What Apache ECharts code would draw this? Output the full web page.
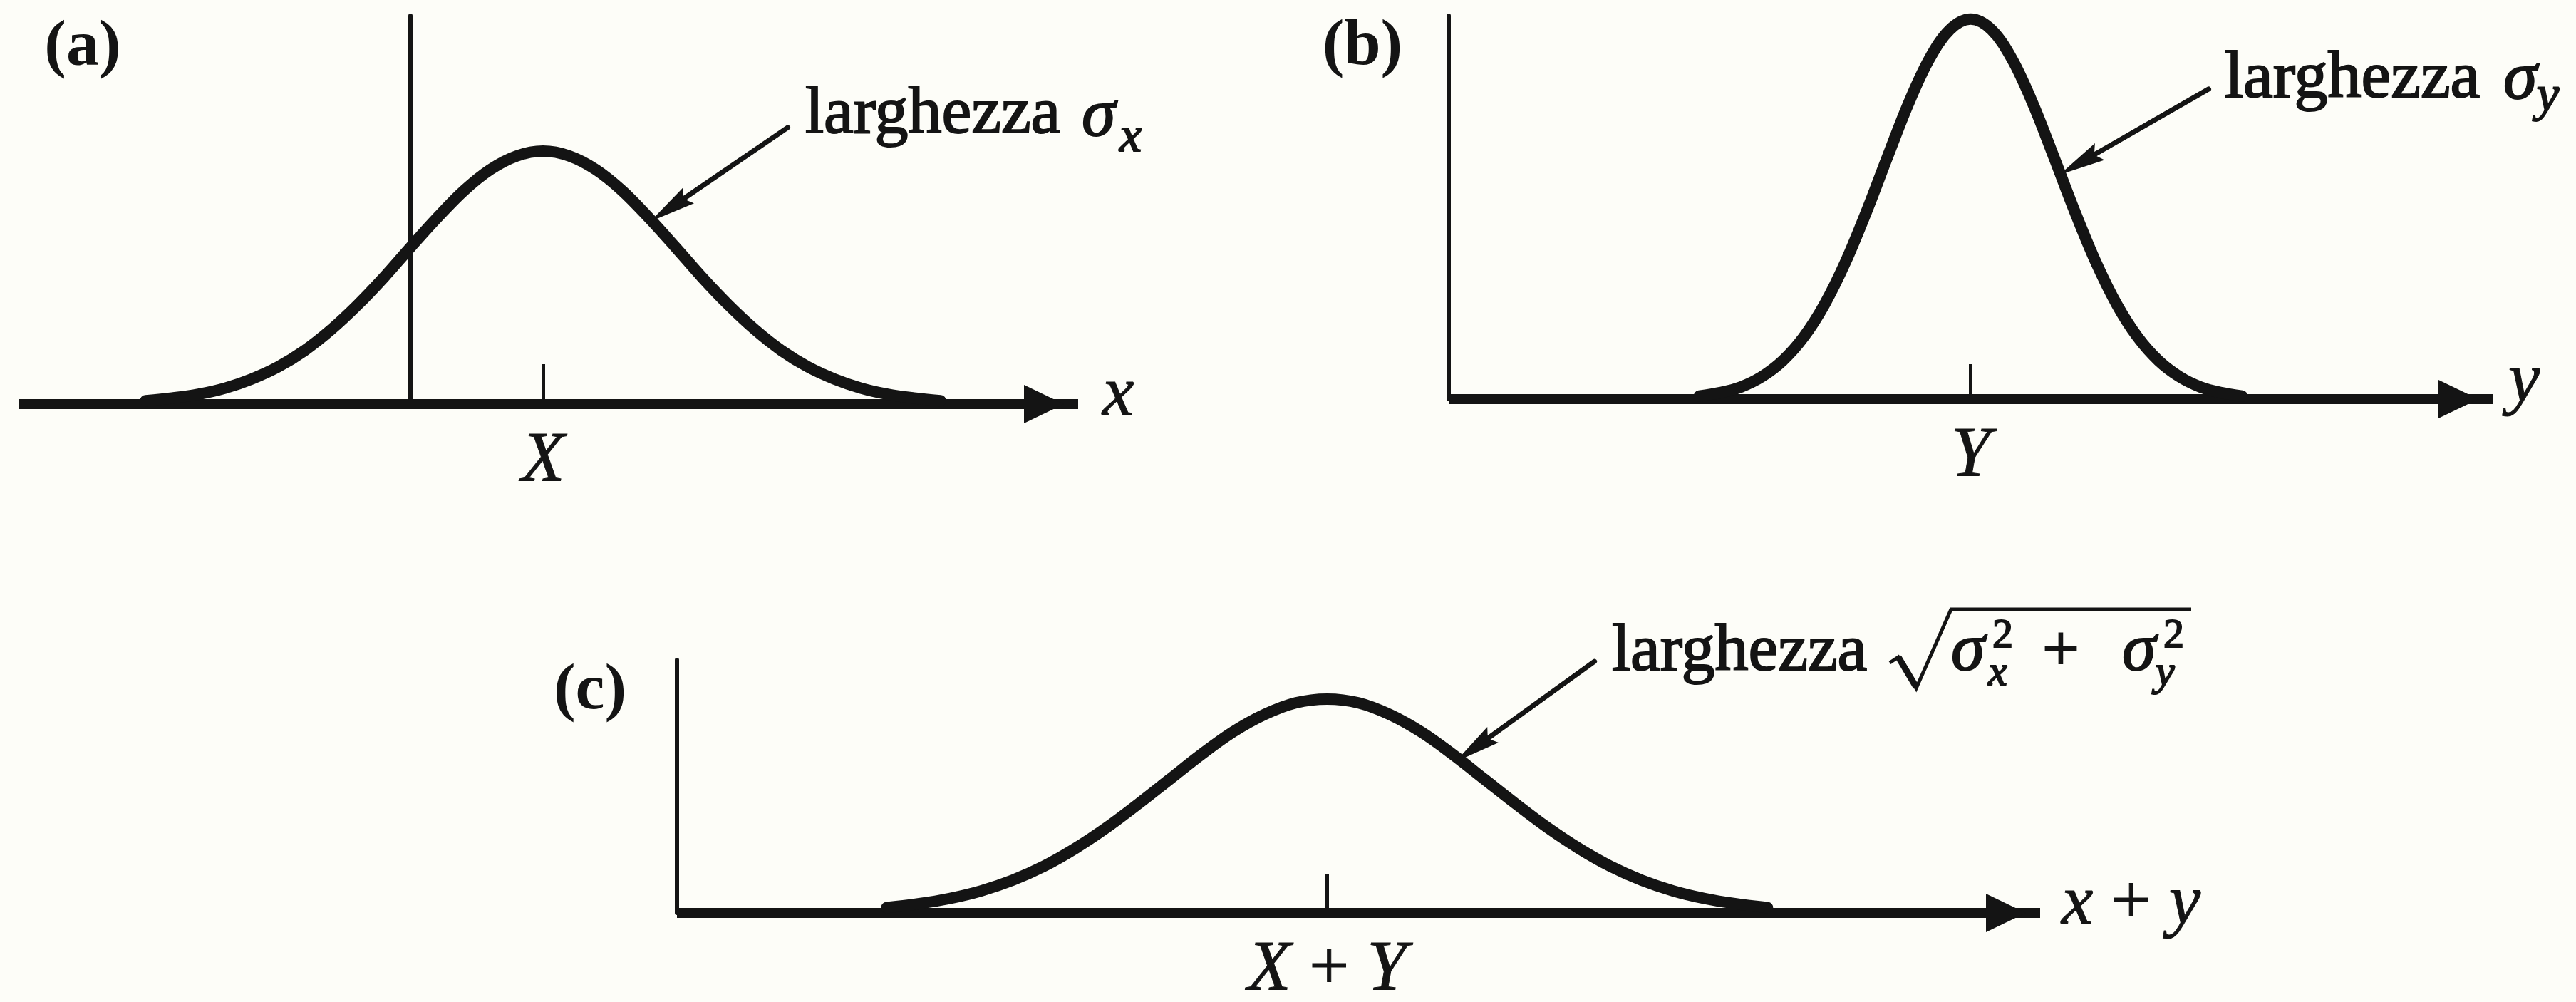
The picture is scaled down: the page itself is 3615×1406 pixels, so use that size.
<!DOCTYPE html>
<html>
<head>
<meta charset="utf-8">
<script src="https://cdn.jsdelivr.net/npm/echarts@6/dist/echarts.min.js"></script>
<style>
  html, body { margin: 0; padding: 0; background: #fdfdf8; }
  #chart { width: 3615px; height: 1406px; }
</style>
</head>
<body>
<div id="chart"></div>
<script>
// ---- (a) distribution of x ----
const xA = [-2.5, -2.25, -2.0, -1.75, -1.5, -1.25, -1.0, -0.75, -0.5, -0.25, 0, 0.25, 0.5, 0.75, 1.0, 1.25,
            1.5, 1.75, 2.0, 2.25, 2.5, 2.75, 3.0, 3.25, 3.5, 3.75, 4.0, 4.25, 4.5, 4.75, 5.0];
const yA = [0.009, 0.016, 0.026, 0.042, 0.066, 0.098, 0.141, 0.196, 0.261, 0.334, 0.413, 0.490, 0.561, 0.617, 0.653, 0.666,
            0.653, 0.617, 0.561, 0.490, 0.413, 0.334, 0.261, 0.196, 0.141, 0.098, 0.066, 0.042, 0.026, 0.016, 0.009];
const rangeA = [-3.7, 6.3];
const topA = 1.0225;
const tickA = [1.25];
const tickLabelA = ['X'];
const pointerA = [[3.56, 0.728], [2.29, 0.486]];

// ---- (b) distribution of y ----
const xB = [2.4, 2.6, 2.8, 3.0, 3.2, 3.4, 3.6, 3.8, 4.0, 4.2, 4.4, 4.6, 4.8, 5.0,
            5.2, 5.4, 5.6, 5.8, 6.0, 6.2, 6.4, 6.6, 6.8, 7.0, 7.2, 7.4, 7.6];
const yB = [0.008, 0.017, 0.032, 0.059, 0.101, 0.163, 0.249, 0.360, 0.492, 0.635, 0.775, 0.893, 0.972, 1.0,
            0.972, 0.893, 0.775, 0.635, 0.492, 0.360, 0.249, 0.163, 0.101, 0.059, 0.032, 0.017, 0.008];
const rangeB = [0, 10];
const topB = 1.009;
const tickB = [5];
const tickLabelB = ['Y'];
const pointerB = [[7.28, 0.816], [5.88, 0.595]];

// ---- (c) distribution of x + y ----
const xC = [2.0, 2.3, 2.6, 2.9, 3.2, 3.5, 3.8, 4.1, 4.4, 4.7, 5.0, 5.3, 5.6, 5.9, 6.2,
            6.5, 6.8, 7.1, 7.4, 7.7, 8.0, 8.3, 8.6, 8.9, 9.2, 9.5, 9.8, 10.1, 10.4];
const yC = [0.014, 0.024, 0.038, 0.058, 0.086, 0.123, 0.170, 0.225, 0.287, 0.352, 0.417, 0.476, 0.522, 0.553, 0.563,
            0.553, 0.522, 0.476, 0.417, 0.352, 0.287, 0.225, 0.170, 0.123, 0.086, 0.058, 0.038, 0.024, 0.014];
const rangeC = [0, 13];
const topC = 0.666;
const tickC = [6.2];
const tickLabelC = ['X + Y'];
const pointerC = [[8.75, 0.662], [7.45, 0.403]];

const ink = '#141414';
const serif = '"Liberation Serif", "Times New Roman", serif';

// letters italic, operators upright with extra room round them
function mathRich(s) {
  return s.split(' ').map(t => /^[A-Za-z]$/.test(t) ? '{i|' + t + '}' : '{r|' + t + '}').join(' ');
}
const richMath = {
  i: { fontFamily: serif, fontStyle: 'italic', fontSize: 100, color: ink, textBorderColor: ink, textBorderWidth: 1 },
  r: { fontFamily: serif, fontStyle: 'normal', fontSize: 100, color: ink, textBorderColor: ink, textBorderWidth: 1,
       padding: [0, 22, 0, 22] }
};

const zip = (xs, ys) => xs.map((x, i) => [x, ys[i]]);

function xAxisFor(gi, range, ticks, labels, tickLen, name, nameGap, namePad) {
  return {
    type: 'value', gridIndex: gi, min: range[0], max: range[1],
    splitLine: { show: false },
    axisLine: {
      show: true, onZero: true,
      symbol: ['none', 'triangle'], symbolSize: [54, 56], symbolOffset: [0, -48],
      lineStyle: { color: ink, width: 14, cap: 'butt' }
    },
    axisTick: { show: true, inside: true, length: tickLen, customValues: ticks, lineStyle: { color: ink, width: 5 } },
    axisLabel: {
      show: true, customValues: ticks, margin: 31,
      formatter: v => mathRich(labels[ticks.indexOf(v)]),
      rich: richMath
    },
    name: mathRich(name), nameLocation: 'end', nameGap: nameGap, nameMoveOverlap: false,
    nameTextStyle: { rich: richMath, align: 'left', verticalAlign: 'middle', padding: [0, 0, namePad, 0] }
  };
}
function yAxisFor(gi, top) {
  return {
    type: 'value', gridIndex: gi, min: 0, max: top,
    splitLine: { show: false }, axisTick: { show: false }, axisLabel: { show: false },
    axisLine: { show: true, onZero: true, lineStyle: { color: ink, width: 6 } }
  };
}
function curve(gi, data) {
  return {
    type: 'line', xAxisIndex: gi, yAxisIndex: gi, data: data,
    smooth: 0.35, symbol: 'none', showSymbol: false, clip: false, silent: true, animation: false,
    lineStyle: { color: ink, width: 16, cap: 'round', join: 'round' }
  };
}
// leader line from the caption down to the curve, ending in a slim arrowhead
function pointer(gi, p) {
  return {
    type: 'custom', xAxisIndex: gi, yAxisIndex: gi, silent: true, animation: false, clip: false,
    data: [[p[0][0], p[0][1], p[1][0], p[1][1]]],
    encode: { x: [0, 2], y: [1, 3] },
    renderItem: (params, api) => {
      const a = api.coord([api.value(0), api.value(1)]);
      const b = api.coord([api.value(2), api.value(3)]);
      const dx = b[0] - a[0], dy = b[1] - a[1];
      const len = Math.hypot(dx, dy), ux = dx / len, uy = dy / len;
      const L = 58, W = 12;
      const bx = b[0] - ux * L, by = b[1] - uy * L;
      return {
        type: 'group', children: [
          { type: 'line', shape: { x1: a[0], y1: a[1], x2: bx + ux * 8, y2: by + uy * 8 },
            style: { stroke: ink, lineWidth: 7, lineCap: 'round' } },
          { type: 'polygon', shape: { points: [[b[0], b[1]], [bx - uy * W, by + ux * W], [bx + ux * 8, by + uy * 8], [bx + uy * W, by - ux * W]] },
            style: { fill: ink, stroke: ink, lineWidth: 2 } }
        ]
      };
    }
  };
}

// text placed by its baseline
function word(text, left, base, size, style, weight) {
  return {
    type: 'text', x: left, y: base - 0.3375 * size, silent: true,
    style: {
      text: text, fill: ink, stroke: ink, lineWidth: 2,
      fontFamily: serif, fontSize: size, fontStyle: style || 'normal', fontWeight: weight || 'normal',
      align: 'left', verticalAlign: 'middle'
    }
  };
}
function tag(text, cx, cy) {
  return {
    type: 'text', x: cx, y: cy, silent: true,
    style: { text: text, fill: ink, fontFamily: serif, fontSize: 92, fontWeight: 'bold', align: 'center', verticalAlign: 'middle' }
  };
}

const chart = echarts.init(document.getElementById('chart'), null, { renderer: 'canvas' });
chart.setOption({
  backgroundColor: '#fdfdf8',
  animation: false,
  textStyle: { fontFamily: serif, color: ink },
  grid: [
    { left: 26, top: 22, width: 1487, height: 545, outerBoundsMode: 'none', containLabel: false },
    { left: 2033, top: 22, width: 1465, height: 538, outerBoundsMode: 'none', containLabel: false },
    { left: 950, top: 926, width: 1913, height: 355, outerBoundsMode: 'none', containLabel: false }
  ],
  xAxis: [
    xAxisFor(0, rangeA, tickA, tickLabelA, 56, 'x', 34, 22),
    xAxisFor(1, rangeB, tickB, tickLabelB, 49, 'y', 22, 46),
    xAxisFor(2, rangeC, tickC, tickLabelC, 55, 'x + y', 30, 22)
  ],
  yAxis: [yAxisFor(0, topA), yAxisFor(1, topB), yAxisFor(2, topC)],
  series: [
    curve(0, zip(xA, yA)),
    curve(1, zip(xB, yB)),
    curve(2, zip(xC, yC)),
    pointer(0, pointerA),
    pointer(1, pointerB),
    pointer(2, pointerC)
  ],
  graphic: [
    tag('(a)', 116, 67),
    tag('(b)', 1912, 66),
    tag('(c)', 828, 970),

    word('larghezza', 1130, 193, 94),
    word('σ', 1518, 197, 96, 'italic'),
    word('x', 1571, 217, 70, 'italic'),

    word('larghezza', 3122, 143, 94),
    word('σ', 3513, 145, 96, 'italic'),
    word('y', 3560, 160, 70, 'italic'),

    word('larghezza', 2262, 947, 94),
    { type: 'polyline', silent: true,
      shape: { points: [[2652, 930], [2664, 922], [2689, 966], [2738, 855], [3075, 855]] },
      style: { stroke: ink, lineWidth: 5, fill: null, lineJoin: 'miter' } },
    { type: 'polyline', silent: true,
      shape: { points: [[2664, 922], [2689, 964]] },
      style: { stroke: ink, lineWidth: 9, fill: null } },
    word('σ', 2738, 947, 96, 'italic'),
    word('2', 2796, 912, 58),
    word('x', 2790, 965, 60, 'italic'),
    word('+', 2866, 947, 92),
    word('σ', 2978, 947, 96, 'italic'),
    word('2', 3036, 912, 58),
    word('y', 3025, 965, 60, 'italic')
  ]
});
</script>
</body>
</html>
